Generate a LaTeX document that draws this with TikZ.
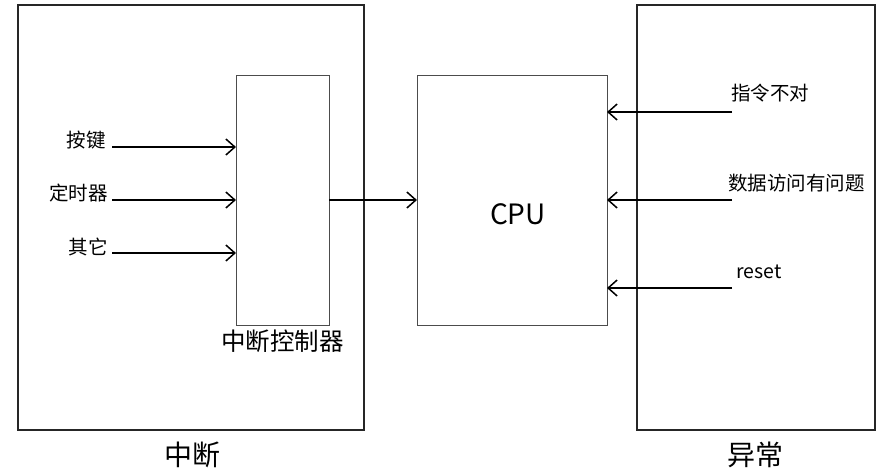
\documentclass[tikz,border=0pt]{standalone}
\usepackage{fontspec}
\setmainfont{Noto Sans CJK SC}
\usetikzlibrary{arrows.meta}
\begin{document}
\begin{tikzpicture}[x=1pt,y=-1pt,
  outerbox/.style={draw=black!85, line width=2pt, inner sep=0pt, outer sep=0pt},
  innerbox/.style={draw=black!70, line width=1pt, inner sep=0pt, outer sep=0pt},
  arr/.style={line width=1.8pt, -{Straight Barb[length=9pt,width=16pt,line width=1.5pt]}},
  lbl/.style={inner sep=0pt, font=\fontsize{19.5pt}{22pt}\selectfont},
  biglbl/.style={inner sep=0pt, font=\fontsize{28pt}{32pt}\selectfont}
]
\useasboundingbox (0,0) rectangle (885,475);
% boxes
\node[outerbox, minimum width=346pt, minimum height=425pt] (intr) at (191,217.5) {};
\node[outerbox, minimum width=238pt, minimum height=425pt] (exc) at (756,217.5) {};
\node[innerbox, minimum width=93pt, minimum height=250pt] (ctrl) at (282.5,200) {};
\node[innerbox, minimum width=190pt, minimum height=250pt] (cpu) at (512,200) {};
\node[biglbl] (cputxt) at (518,214) {CPU};
\node[inner sep=0pt, font=\fontsize{24.5pt}{28pt}\selectfont] (ctrltxt) at (282.5,341) {中断控制器};
\node[biglbl] (intrtxt) at (192,455) {中断};
\node[biglbl] (exctxt) at (755,455) {异常};
% left inputs
\coordinate (s1) at (112,147);
\coordinate (s2) at (112,200);
\coordinate (s3) at (112,253);
\node[lbl, anchor=east] (k1) at (106,140) {按键};
\node[lbl, anchor=east] (k2) at (108,193) {定时器};
\node[lbl, anchor=east] (k3) at (108,247) {其它};
\draw[arr] (s1) -- (s1 -| ctrl.west);
\draw[arr] (s2) -- (s2 -| ctrl.west);
\draw[arr] (s3) -- (s3 -| ctrl.west);
% controller to CPU
\draw[arr] (ctrl.east |- s2) -- (cpu.west |- s2);
% right inputs
\coordinate (e1) at (732,112);
\coordinate (e2) at (732,200);
\coordinate (e3) at (732,288);
\node[lbl, anchor=west] (x1) at (731,93) {指令不对};
\node[lbl, anchor=west] (x2) at (728,183) {数据访问有问题};
\node[lbl, anchor=west] (x3) at (736,272) {reset};
\draw[arr] (e1) -- (e1 -| cpu.east);
\draw[arr] (e2) -- (e2 -| cpu.east);
\draw[arr] (e3) -- (e3 -| cpu.east);
\end{tikzpicture}
\end{document}
